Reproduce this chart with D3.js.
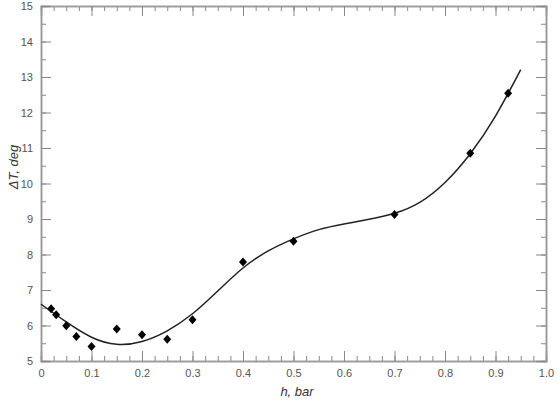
<!DOCTYPE html>
<html lang="en">
<head>
    <meta charset="UTF-8">
    <title>dT vs h</title>
    <script src="https://d3js.org/d3.v7.min.js"></script>
</head>
<style>
    body { margin: 0; background: #fff; }
    .tick text { font: 11px "Liberation Sans", Arial, sans-serif; fill: #555; }
    .lbl { font: italic 13px "Liberation Sans", Arial, sans-serif; fill: #333; }
</style>
<body>
<script type="text/javascript">
    // measured points
    var hPts = [0.02, 0.03, 0.05, 0.07, 0.10, 0.15, 0.20, 0.25, 0.30, 0.40, 0.50, 0.70, 0.85, 0.925];
    var dtPts = [6.47, 6.30, 5.99, 5.69, 5.41, 5.90, 5.74, 5.61, 6.16, 7.79, 8.37, 9.13, 10.85, 12.54];

    // fitted curve
    var hFit = [0, 0.05, 0.10, 0.15, 0.20, 0.25, 0.30, 0.35, 0.40, 0.45, 0.50, 0.55, 0.60, 0.65, 0.70, 0.75, 0.80, 0.85, 0.90, 0.95];
    var dtFit = [6.60, 6.10, 5.67, 5.47, 5.55, 5.85, 6.33, 6.97, 7.62, 8.10, 8.44, 8.70, 8.86, 8.99, 9.16, 9.47, 10.03, 10.84, 11.90, 13.21];

    var xTicks = [0, 0.1, 0.2, 0.3, 0.4, 0.5, 0.6, 0.7, 0.8, 0.9, 1.0];
    var yTicks = [5, 6, 7, 8, 9, 10, 11, 12, 13, 14, 15];

    var W = 560, H = 402;
    var x = d3.scaleLinear().domain([0, 1]).range([41, 546]);
    var y = d3.scaleLinear().domain([5, 15]).range([361, 6]);

    var svg = d3.select("body").append("svg")
        .attr("width", W)
        .attr("height", H);

    var minorX = d3.range(0, 1.0001, 0.025);
    var minorY = d3.range(5, 15.0001, 0.5);

    function styleAxis(g) {
        g.select(".domain").attr("stroke", "#999").attr("stroke-width", 1.5);
        g.selectAll(".tick line").attr("stroke", "#888").attr("stroke-width", 1);
    }

    // minor ticks (all four sides)
    svg.append("g").attr("transform", "translate(0," + y(5) + ")")
        .call(d3.axisBottom(x).tickValues(minorX).tickSize(-5).tickFormat(""))
        .call(styleAxis);
    svg.append("g").attr("transform", "translate(0," + y(15) + ")")
        .call(d3.axisTop(x).tickValues(minorX).tickSize(-5).tickFormat(""))
        .call(styleAxis);
    svg.append("g").attr("transform", "translate(" + x(0) + ",0)")
        .call(d3.axisLeft(y).tickValues(minorY).tickSize(-5).tickFormat(""))
        .call(styleAxis);
    svg.append("g").attr("transform", "translate(" + x(1) + ",0)")
        .call(d3.axisRight(y).tickValues(minorY).tickSize(-5).tickFormat(""))
        .call(styleAxis);

    // major ticks + labels
    svg.append("g").attr("transform", "translate(0," + y(5) + ")")
        .call(d3.axisBottom(x).tickValues(xTicks).tickSize(-10).tickPadding(8)
            .tickFormat(function(d) { return d === 0 ? "0" : d3.format(".1f")(d); }))
        .call(styleAxis);
    svg.append("g").attr("transform", "translate(0," + y(15) + ")")
        .call(d3.axisTop(x).tickValues(xTicks).tickSize(-10).tickFormat(""))
        .call(styleAxis);
    svg.append("g").attr("transform", "translate(" + x(0) + ",0)")
        .call(d3.axisLeft(y).tickValues(yTicks).tickSize(-10).tickPadding(8).tickFormat(d3.format("d")))
        .call(styleAxis);
    svg.append("g").attr("transform", "translate(" + x(1) + ",0)")
        .call(d3.axisRight(y).tickValues(yTicks).tickSize(-10).tickFormat(""))
        .call(styleAxis);

    // fitted curve
    var fit = hFit.map(function(d, i) { return [d, dtFit[i]]; });
    var line = d3.line()
        .x(function(d) { return x(d[0]); })
        .y(function(d) { return y(d[1]); })
        .curve(d3.curveNatural);
    svg.append("path")
        .datum(fit)
        .attr("fill", "none")
        .attr("stroke", "#222")
        .attr("stroke-width", 1.5)
        .attr("d", line);

    // points as diamonds
    var pts = hPts.map(function(d, i) { return {h: d, dt: dtPts[i]}; });
    svg.selectAll(".pt")
        .data(pts)
        .enter().append("path")
        .attr("class", "pt")
        .attr("transform", function(d) { return "translate(" + x(d.h) + "," + y(d.dt) + ")"; })
        .attr("d", "M0,-4.5L4,0L0,4.5L-4,0Z")
        .attr("fill", "#000");

    // axis titles
    svg.append("text")
        .attr("class", "lbl")
        .attr("x", 297)
        .attr("y", 396)
        .attr("text-anchor", "middle")
        .text("h, bar");
    svg.append("text")
        .attr("class", "lbl")
        .attr("transform", "translate(18,167) rotate(-90)")
        .attr("text-anchor", "middle")
        .text("\u0394T, deg");
</script>
</body>
</html>
